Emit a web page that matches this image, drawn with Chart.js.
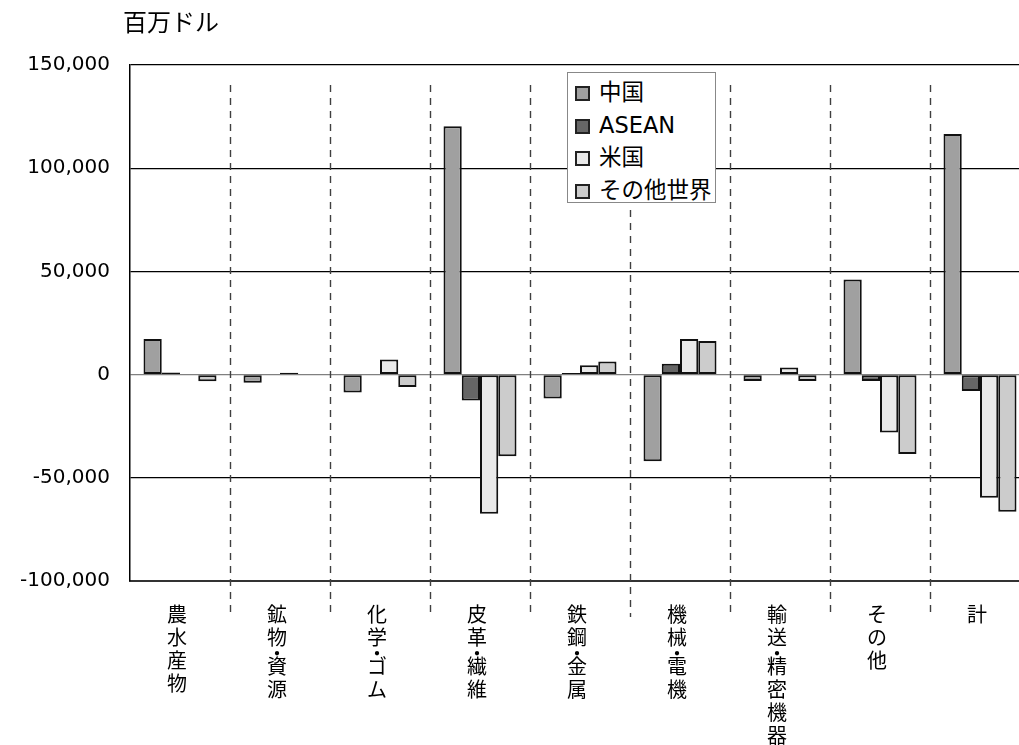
<!DOCTYPE html>
<html>
<head>
<meta charset="utf-8">
<script src="https://cdn.jsdelivr.net/npm/chart.js@4.4.0/dist/chart.umd.min.js"></script>
<style>
    html, body { margin: 0; padding: 0; background: #fff; overflow: hidden; }
    #wrap { position: relative; width: 1040px; height: 745px; }
    #unit {
        position: absolute; left: 123px; top: 9px;
        font: 24px "Noto Sans CJK JP", sans-serif; line-height: 1; color: #000;
    }
    #legend {
        position: absolute; left: 567px; top: 72px; width: 149px; height: 131px;
        border: 1px solid #888; background: #fff; box-sizing: border-box;
        font: 22.5px "DejaVu Sans", "Noto Sans CJK JP", sans-serif; color: #000;
    }
    #legend .item { position: absolute; left: 7px; height: 24px; line-height: 24px; white-space: nowrap; }
    #legend .box {
        display: inline-block; width: 15px; height: 15px; box-sizing: border-box;
        border: 2px solid #222; vertical-align: -1px; margin-right: 9px;
    }
</style>
</head>
<body>
<div id="wrap">
    <canvas id="chart"></canvas>
    <div id="unit">百万ドル</div>
    <div id="legend"></div>
</div>
<script>
// Data (million USD)
const categories = ['農水産物', '鉱物・資源', '化学・ゴム', '皮革・繊維', '鉄鋼・金属', '機械・電機', '輸送・精密機器', 'その他', '計'];
const seriesNames = ['中国', 'ASEAN', '米国', 'その他世界'];
const china = [17300, -4000, -8700, 120300, -11600, -42000, -3100, 46100, 116600];
const asean = [1000, 0, 0, -12500, 800, 5300, 0, -3100, -8000];
const usa = [0, 900, 7300, -67400, 4500, 17300, 3500, -28000, -59700];
const other = [-3200, 0, -6000, -39500, 6300, 16300, -3100, -38500, -66500];
const yTicks = [-100000, -50000, 0, 50000, 100000, 150000];

const colors = ['#A0A0A0', '#666666', '#EAEAEA', '#CCCCCC'];
const legendRect = { left: 567, right: 716, bottom: 203 };

// HTML legend
const legendEl = document.getElementById('legend');
seriesNames.forEach((name, i) => {
    const item = document.createElement('div');
    item.className = 'item';
    item.style.top = (7 + i * 32.5) + 'px';
    item.innerHTML = `<span class="box" style="background:${colors[i]}"></span>${name}`;
    legendEl.appendChild(item);
});

// dashed separators between categories
const separators = {
    id: 'separators',
    afterDraw(chart) {
        const { ctx, chartArea, scales: { x } } = chart;
        ctx.save();
        ctx.strokeStyle = '#404040';
        ctx.lineWidth = 1.4;
        ctx.setLineDash([7, 6]);
        for (let i = 0; i < categories.length - 1; i++) {
            const px = Math.round((x.getPixelForValue(i) + x.getPixelForValue(i + 1)) / 2) + 0.5;
            let top = chartArea.top + 20;
            if (px > legendRect.left && px < legendRect.right) top = legendRect.bottom + 7;
            ctx.beginPath();
            ctx.moveTo(px, top);
            ctx.lineTo(px, chartArea.bottom + 36);
            ctx.stroke();
        }
        ctx.restore();
    }
};

// vertical category labels
const vLabels = {
    id: 'vLabels',
    afterDraw(chart) {
        const { ctx, chartArea, scales: { x } } = chart;
        ctx.save();
        ctx.fillStyle = '#000';
        ctx.font = '20px "Noto Sans CJK JP", sans-serif';
        ctx.textAlign = 'center';
        ctx.textBaseline = 'middle';
        categories.forEach((label, i) => {
            const cx = x.getPixelForValue(i) - 3;
            let y = chartArea.bottom + 33;
            const chars = Array.from(label);
            chars.forEach((ch, k) => {
                if (k > 0) y += ch === '・' ? 16 : (chars[k - 1] === '・' ? 13 : 23);
                ctx.fillText(ch, cx, y);
            });
        });
        ctx.restore();
    }
};

const makeSet = (label, data, color) => ({
    label: label,
    data: data,
    backgroundColor: color,
    borderColor: '#111',
    borderWidth: 2,
    borderSkipped: false,
    categoryPercentage: 0.73,
    barPercentage: 1.0
});

new Chart(document.getElementById('chart'), {
    type: 'bar',
    data: {
        labels: categories,
        datasets: [
            makeSet(seriesNames[0], china, colors[0]),
            makeSet(seriesNames[1], asean, colors[1]),
            makeSet(seriesNames[2], usa, colors[2]),
            makeSet(seriesNames[3], other, colors[3])
        ]
    },
    options: {
        responsive: true,
        maintainAspectRatio: false,
        animation: false,
        layout: { padding: { top: 65, right: 10, bottom: 164, left: 0 } },
        plugins: { legend: { display: false }, tooltip: { enabled: false } },
        scales: {
            x: {
                grid: { display: false, drawTicks: false },
                ticks: { display: false },
                border: { display: true, color: '#333', width: 2 },
                afterFit: s => { s.height = 0; }
            },
            y: {
                min: yTicks[0],
                max: yTicks[yTicks.length - 1],
                afterBuildTicks: s => { s.ticks = yTicks.map(v => ({ value: v })); },
                afterFit: s => { s.width = 130; },
                grid: {
                    drawTicks: false,
                    color: c => c.tick && c.tick.value === 0 ? '#808080' : '#000',
                    lineWidth: 1.2
                },
                border: { display: true, color: '#000', width: 1.5 },
                ticks: {
                    padding: 20,
                    color: '#000',
                    font: { family: 'DejaVu Sans', size: 20 },
                    callback: v => v.toLocaleString('en-US')
                }
            }
        }
    },
    plugins: [separators, vLabels]
});
</script>
</body>
</html>
